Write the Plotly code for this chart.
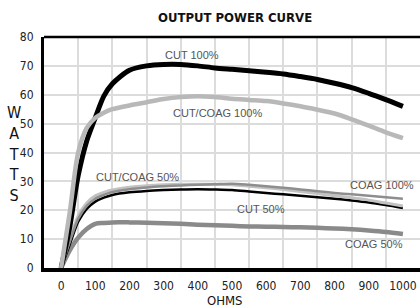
import plotly.graph_objects as go

ohms = [0, 25, 50, 75, 100, 125, 150, 200, 250, 300, 350, 400, 450, 500, 550, 600, 650, 700, 750, 800, 850, 900, 950, 1000]

cut_100 = [0, 14, 32, 44, 52, 59.5, 63.8, 68.5, 70, 70.5, 70.5, 70, 69.3, 68.8, 68.3, 67.8, 67.2, 66.3, 65.3, 64, 62.5, 60.5, 58.3, 56]
cut_coag_100 = [0, 19, 40, 48.5, 52, 53.8, 55, 56.3, 57.4, 58.5, 59.2, 59.5, 59.2, 58.6, 58.2, 57.8, 57, 56, 54.8, 53.5, 51.5, 49.3, 47, 45]
coag_100 = [0, 9, 17, 21.5, 24, 25.3, 26.3, 27.3, 27.9, 28.3, 28.6, 28.8, 29, 29.2, 28.8, 28.3, 27.8, 27.2, 26.6, 26, 25.5, 25, 24.5, 24]
cut_coag_50 = [0, 10, 18, 22.5, 25, 26.2, 27, 28, 28.5, 28.8, 29, 29, 29, 28.8, 28.3, 27.8, 27.2, 26.5, 25.8, 25, 24.3, 23.5, 22.5, 21.5]
cut_50 = [0, 8, 16, 20.5, 23, 24.4, 25.3, 26.2, 26.7, 27, 27.2, 27.3, 27.2, 27, 26.5, 26, 25.5, 25, 24.5, 24, 23.4, 22.7, 21.8, 20.8]
coag_50 = [0, 6, 10.5, 13.5, 15.3, 15.6, 15.8, 15.8, 15.7, 15.5, 15.3, 15, 14.8, 14.6, 14.4, 14.3, 14.2, 14.1, 13.9, 13.7, 13.4, 13, 12.5, 11.8]

x_ticks = [0, 100, 200, 300, 400, 500, 600, 700, 800, 900, 1000]
y_ticks = [0, 10, 20, 30, 40, 50, 60, 70, 80]

series = [
    ("COAG 50%", coag_50, "#8a8a8a", 4.5),
    ("CUT 50%", cut_50, "#000000", 2.5),
    ("CUT/COAG 50%", cut_coag_50, "#c2c2c2", 3),
    ("COAG 100%", coag_100, "#8e8e8e", 2.5),
    ("CUT 100%", cut_100, "#000000", 5),
    ("CUT/COAG 100%", cut_coag_100, "#b8b8b8", 4.5),
]

labels = [
    ("CUT 100%", 192, 55),
    ("CUT/COAG 100%", 217, 113),
    ("CUT/COAG 50%", 137, 177),
    ("COAG 100%", 382, 185),
    ("CUT 50%", 261, 209),
    ("COAG 50%", 374, 244),
]

NARROW = "DejaVu Sans Condensed, Liberation Sans, Arial, sans-serif"
SANS = "Liberation Sans, Arial, sans-serif"

fig = go.Figure()
for name, vals, color, w in series:
    fig.add_trace(go.Scatter(x=ohms, y=vals, mode="lines", name=name,
                             line=dict(color=color, width=w, shape="spline", smoothing=0.8),
                             hoverinfo="skip"))

W, H = 420, 308
L, R, T, B = 44, 0, 37, 40
pw, ph = W - L - R, H - T - B

def px2paper(x, y):
    return (x - L) / pw, (H - B - y) / ph

annotations = []
for text, x, y in labels:
    px, py = px2paper(x, y)
    annotations.append(dict(text=text, x=px, y=py, xref="paper", yref="paper",
                            showarrow=False, xanchor="center", yanchor="middle",
                            font=dict(family=SANS, size=11, color="#555555")))

px, py = px2paper(235, 17)
annotations.append(dict(text="<b>OUTPUT POWER CURVE</b>", x=px, y=py, xref="paper", yref="paper",
                        showarrow=False, xanchor="center", yanchor="middle",
                        font=dict(family=NARROW, size=13, color="#111111")))
px, py = px2paper(225, 300)
annotations.append(dict(text="OHMS", x=px, y=py, xref="paper", yref="paper",
                        showarrow=False, xanchor="center", yanchor="middle",
                        font=dict(family=NARROW, size=13, color="#111111")))
px, py = px2paper(14, 154)
annotations.append(dict(text="W<br>A<br>T<br>T<br>S", x=px, y=py, xref="paper", yref="paper",
                        showarrow=False, xanchor="center", yanchor="middle",
                        font=dict(family=NARROW, size=16, color="#111111")))

fig.update_layout(
    width=W, height=H,
    margin=dict(l=L, r=R, t=T, b=B, autoexpand=False),
    paper_bgcolor="white", plot_bgcolor="white",
    showlegend=False,
    annotations=annotations,
    shapes=[dict(type="line", xref="paper", yref="paper", x0=0, x1=1, y0=1, y1=1,
                 line=dict(color="#000000", width=2.5))],
    xaxis=dict(range=[-50, 1050], tickvals=x_ticks, ticktext=[str(v) for v in x_ticks],
               showgrid=False, zeroline=False, automargin=False,
               minor=dict(tick0=50, dtick=100, showgrid=True, gridcolor="#dcdcdc", gridwidth=2),
               showline=True, linecolor="#000000", linewidth=4,
               ticks="", ticklabelstandoff=4,
               tickfont=dict(family=NARROW, size=12, color="#222222")),
    yaxis=dict(range=[0, 80], tickvals=y_ticks, showgrid=True, gridcolor="#dcdcdc", gridwidth=2,
               zeroline=False, automargin=False, showline=True, linecolor="#000000", linewidth=3,
               ticks="", ticklabelstandoff=5,
               tickfont=dict(family=NARROW, size=12, color="#222222")),
)

fig.write_html("out.html", config={"displayModeBar": False},
               post_script="document.body.style.margin='0';document.body.style.padding='0';")
